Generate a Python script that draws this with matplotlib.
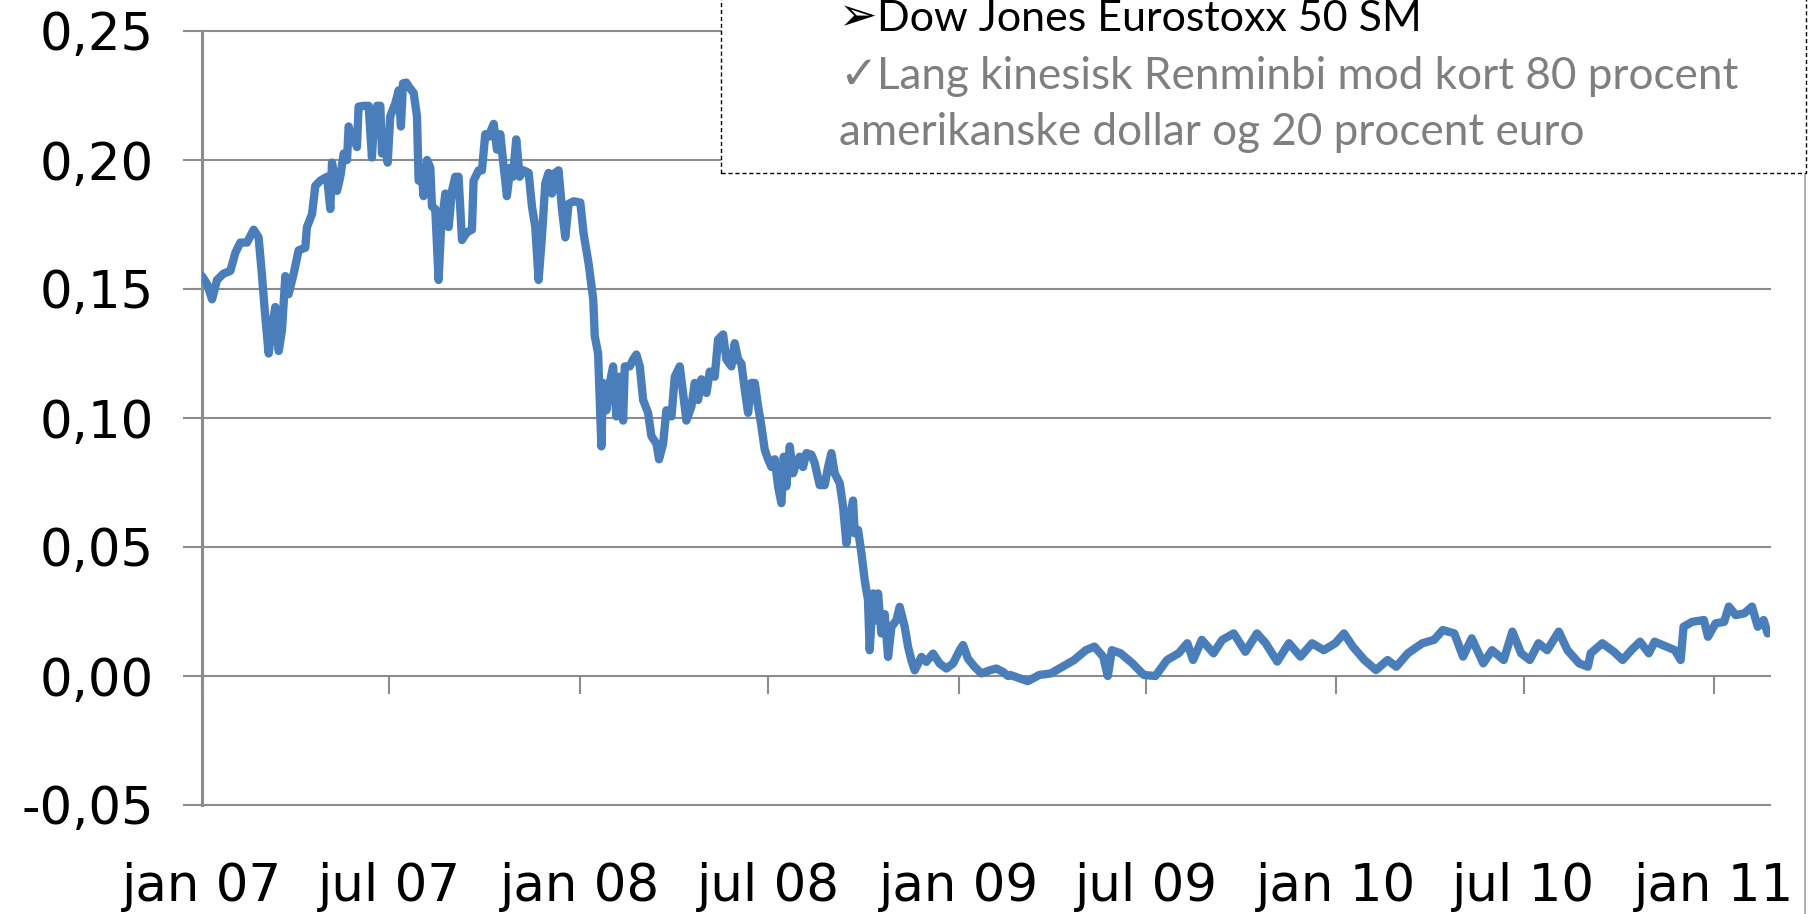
import numpy as np
import pandas as pd
import matplotlib
matplotlib.use("Agg")
import matplotlib.pyplot as plt
import matplotlib.dates as mdates
from matplotlib.patches import Rectangle
from matplotlib.lines import Line2D
from matplotlib.ticker import FuncFormatter

W, H = 1810, 914

start = "2007-01-01"
# days after start, and the value
days = [0, 4.8, 9.7, 14.5, 20.9, 27.4, 32.2, 37.0, 43.5, 49.9, 54.7, 58.0, 61.2, 64.4, 67.6,
        70.8, 74.1, 77.3, 80.5, 83.7, 88.6, 93.4, 99.8, 101.4, 106.3, 109.5, 114.3, 120.8,
        124.0, 125.6, 130.4, 133.6, 136.9, 140.1, 141.7, 144.9, 146.5, 149.7, 151.3, 156.2,
        161.0, 164.2, 165.8, 169.1, 172.3, 173.9, 177.1, 179.4, 181.9, 186.8, 190.0, 192.2,
        194.2, 197.4, 200.6, 204.5, 207.7, 209.3, 212.5, 214.1, 217.4, 220.6, 222.2, 225.4,
        228.6, 230.9, 235.1, 238.3, 241.5, 244.7, 247.9, 251.2, 256.0, 260.8, 262.4, 267.3,
        270.5, 273.7, 276.9, 281.8, 285.0, 288.2, 290.8, 294.6, 297.9, 300.4, 303.6, 306.9,
        310.7, 315.6, 318.8, 322.0, 325.2, 328.4, 331.7, 334.9, 338.1, 341.3, 344.5, 347.8,
        351.0, 354.2, 359.0, 365.5, 368.7, 373.5,
        378.0, 379.5, 382.7, 385.9, 387.5, 390.8, 394.0, 397.2, 400.4, 403.6, 406.9, 408.5,
        413.3, 416.5, 419.7, 423.0, 426.2, 431.0, 434.2, 439.1, 441.6, 445.5, 448.7, 453.6,
        456.8, 461.6, 464.8, 468.0, 472.9, 476.1, 479.3, 482.5, 487.4, 490.6, 495.4, 498.6,
        503.5, 506.7, 511.5, 514.7, 518.0, 521.2, 524.4, 527.6, 530.8, 534.1, 537.3, 540.5,
        543.7, 546.9, 550.2, 553.4, 556.6, 559.8, 562.1, 564.6, 567.9, 571.1, 574.3, 577.5,
        580.7, 584.0, 588.8, 592.0, 596.8, 601.7, 604.9, 608.1, 611.3, 616.2, 619.4, 622.6,
        625.8, 629.0, 630.7, 633.9, 637.1, 640.3, 643.5, 645.1, 648.4, 651.6, 653.2, 656.4,
        659.6, 662.9, 666.1, 670.9, 674.1, 679.0, 682.2, 685.4, 688.6, 691.8, 695.1, 699.9,
        706.3, 712.8, 719.2, 725.6, 732.1, 735.3, 740.1, 746.6, 753.0, 761.1, 767.5, 773.9,
        778.8,
        781.0, 797.8, 809.0, 820.2, 831.4, 842.7, 853.9, 862.3, 870.7, 875.2, 879.1, 887.5,
        898.7, 910.0, 921.2, 932.4, 943.6, 952.0, 957.6, 966.0, 977.3, 985.7, 996.9, 1008.1,
        1019.3, 1027.7, 1038.9, 1050.2, 1061.4, 1072.6, 1083.8, 1095.0, 1103.4, 1111.9,
        1123.1, 1134.3, 1145.5, 1153.9, 1165.1, 1179.1, 1190.4, 1198.8, 1210.0, 1218.4,
        1226.8, 1238.0, 1246.4, 1257.7, 1266.1, 1274.5, 1282.9, 1291.3, 1299.7, 1310.9,
        1319.3, 1330.6, 1339.0, 1341.8, 1353.0, 1364.2, 1372.6, 1381.0, 1389.4, 1397.9,
        1403.5, 1414.7, 1423.1, 1428.7, 1431.5, 1439.9, 1451.1, 1455.1, 1462.4, 1470.7,
        1475.2, 1481.9, 1490.3, 1497.6, 1503.2, 1508.8, 1512.7]
spread = [0.155, 0.152, 0.146, 0.1535, 0.156, 0.157, 0.164, 0.168, 0.168, 0.173, 0.170, 0.155,
          0.139, 0.125, 0.135, 0.143, 0.126, 0.134, 0.155, 0.148, 0.156, 0.165, 0.166, 0.174,
          0.179, 0.190, 0.192, 0.1935, 0.181, 0.199, 0.188, 0.1935, 0.2025, 0.200, 0.213,
          0.208, 0.210, 0.205, 0.2207, 0.221, 0.221, 0.201, 0.213, 0.221, 0.221, 0.2025,
          0.206, 0.199, 0.217, 0.222, 0.227, 0.213, 0.2297, 0.230, 0.228, 0.226, 0.217,
          0.192, 0.1935, 0.186, 0.200, 0.197, 0.182, 0.181, 0.1535, 0.173, 0.187, 0.174,
          0.188, 0.1935, 0.1935, 0.169, 0.172, 0.173, 0.192, 0.196, 0.196, 0.210, 0.209,
          0.214, 0.204, 0.210, 0.200, 0.186, 0.197, 0.1935, 0.208, 0.1935, 0.196, 0.195,
          0.182, 0.174, 0.1535, 0.170, 0.191, 0.195, 0.187, 0.195, 0.196, 0.181, 0.170,
          0.183, 0.184, 0.1835, 0.1715, 0.160,
          0.146, 0.1317, 0.125, 0.089, 0.1136, 0.103, 0.1136, 0.120, 0.1006, 0.116, 0.099,
          0.120, 0.120, 0.1227, 0.1246, 0.120, 0.107, 0.102, 0.093, 0.090, 0.084, 0.090,
          0.103, 0.1006, 0.116, 0.120, 0.1097, 0.099, 0.1045, 0.1136, 0.107, 0.115, 0.1097,
          0.118, 0.116, 0.1304, 0.1324, 0.1227, 0.120, 0.129, 0.1227, 0.121, 0.111, 0.102,
          0.1136, 0.1136, 0.1045, 0.0968, 0.0877, 0.084, 0.081, 0.084, 0.0735, 0.067, 0.085,
          0.0735, 0.089, 0.0786, 0.0825, 0.085, 0.081, 0.0864, 0.0858, 0.0825, 0.074, 0.074,
          0.081, 0.0864, 0.0786, 0.0747, 0.0657, 0.0514, 0.0605, 0.068, 0.0553, 0.0566,
          0.0476, 0.0372, 0.0294, 0.010, 0.032, 0.0216, 0.032, 0.0165, 0.024, 0.0074, 0.019,
          0.0216, 0.0268, 0.019, 0.0113, 0.0061, 0.0022, 0.0048, 0.0074, 0.0055, 0.0087,
          0.0048, 0.0029, 0.0048, 0.010, 0.012, 0.0067, 0.0035, 0.001, 0.0022, 0.0029,
          0.0016, 0.000,
          0.0004, -0.002, 0.0004, 0.001, 0.0036, 0.0062, 0.010, 0.0114, 0.0075, 0.000, 0.010,
          0.0088, 0.005, 0.0004, 0.000, 0.0062, 0.0088, 0.0127, 0.0062, 0.014, 0.0088, 0.014,
          0.0165, 0.0094, 0.0165, 0.0127, 0.0056, 0.0127, 0.0075, 0.0127, 0.010, 0.0127,
          0.0165, 0.0114, 0.0062, 0.0023, 0.0062, 0.0036, 0.0088, 0.0127, 0.014, 0.0178,
          0.0165, 0.0075, 0.0146, 0.0049, 0.010, 0.0062, 0.0172, 0.0088, 0.0062, 0.0127,
          0.010, 0.0172, 0.010, 0.0049, 0.0036, 0.0088, 0.0127, 0.0094, 0.0062, 0.010,
          0.0133, 0.0088, 0.0133, 0.0114, 0.010, 0.0062, 0.0191, 0.021, 0.0217, 0.0152,
          0.0204, 0.021, 0.0269, 0.0236, 0.0243, 0.0269, 0.0191, 0.0217, 0.0165]

tick_dates = ["2007-01-01", "2007-07-01", "2008-01-01", "2008-07-01", "2009-01-01",
              "2009-07-01", "2010-01-01", "2010-07-01", "2011-01-01"]
tick_labels = ["jan 07", "jul 07", "jan 08", "jul 08", "jan 09", "jul 09", "jan 10",
               "jul 10", "jan 11"]
y_ticks = [-0.05, 0.0, 0.05, 0.10, 0.15, 0.20, 0.25]

legend_title = "Dow Jones Eurostoxx 50 SM"
legend_lines = ["Lang kinesisk Renminbi mod kort 80 procent",
                "amerikanske dollar og 20 procent euro"]


def px(x, y):
    return x / W, 1 - y / H


t0 = pd.Timestamp(start)
x = mdates.date2num(t0 + pd.to_timedelta(days, unit="D"))
tick_x = mdates.date2num(pd.to_datetime(tick_dates))

grid_col = "#8c8c8c"
fig = plt.figure(figsize=(W / 100, H / 100), dpi=100)
ax = fig.add_axes([202 / W, 1 - 805 / H, (1770 - 202) / W, (805 - 31) / H])

ax.plot(x, spread, color="#4a7ebb", lw=6, solid_joinstyle="round",
        solid_capstyle="round", zorder=3)
for y in y_ticks:
    ax.axhline(y, color=grid_col, lw=1.5, clip_on=False, zorder=1)

ax.set_xlim(mdates.date2num(t0), mdates.date2num(t0) + 1515)
ax.set_ylim(-0.05, 0.25)
ax.set_yticks(y_ticks)
ax.yaxis.set_major_formatter(FuncFormatter(lambda v, p: f"{v:.2f}".replace(".", ",")))
ax.tick_params(axis="y", direction="out", length=13.7, width=1.5, color=grid_col,
               pad=21, labelsize=37)
ax.set_xticks(tick_x)
ax.set_xticklabels(tick_labels)
ax.tick_params(axis="x", length=0, pad=41, labelsize=37)
for s in ["top", "right", "bottom"]:
    ax.spines[s].set_visible(False)
ax.spines["left"].set_color(grid_col)
ax.spines["left"].set_linewidth(2.2)

# tick marks on the zero line
sec = ax.secondary_xaxis(1 / 6)
sec.set_xticks(tick_x)
sec.tick_params(direction="out", length=13, width=1.5, color=grid_col, labelbottom=False)
sec.spines["bottom"].set_visible(False)

# text box
box = Rectangle(px(721, 173), (1806 - 721) / W, 173 / H + 0.05, transform=fig.transFigure,
                facecolor="white", edgecolor="black", lw=1.0, linestyle=(0, (3, 2)),
                zorder=5, clip_on=False)
fig.add_artist(box)
fig.add_artist(Line2D([1805 / W, 1805 / W], [0, 1 - 173 / H], transform=fig.transFigure,
                      color="#a6a6a6", lw=1.2))
fam = ["Lato", "DejaVu Sans"]
fig.text(*px(839, 30), "\u27a2", fontsize=33, family=["DejaVu Sans"], color="black",
         va="baseline", zorder=6)
fig.text(*px(877, 31), legend_title, fontsize=31, family=fam, color="black",
         va="baseline", zorder=6)
fig.text(*px(839, 89), "\u2713", fontsize=33, family=["DejaVu Sans"], color="#7f7f7f",
         va="baseline", zorder=6)
fig.text(*px(877, 89), legend_lines[0], fontsize=31.7, family=fam, color="#7f7f7f",
         va="baseline", zorder=6)
fig.text(*px(839, 145), legend_lines[1], fontsize=31.7, family=fam, color="#7f7f7f",
         va="baseline", zorder=6)

fig.savefig("out.png", dpi=100, facecolor="white")
